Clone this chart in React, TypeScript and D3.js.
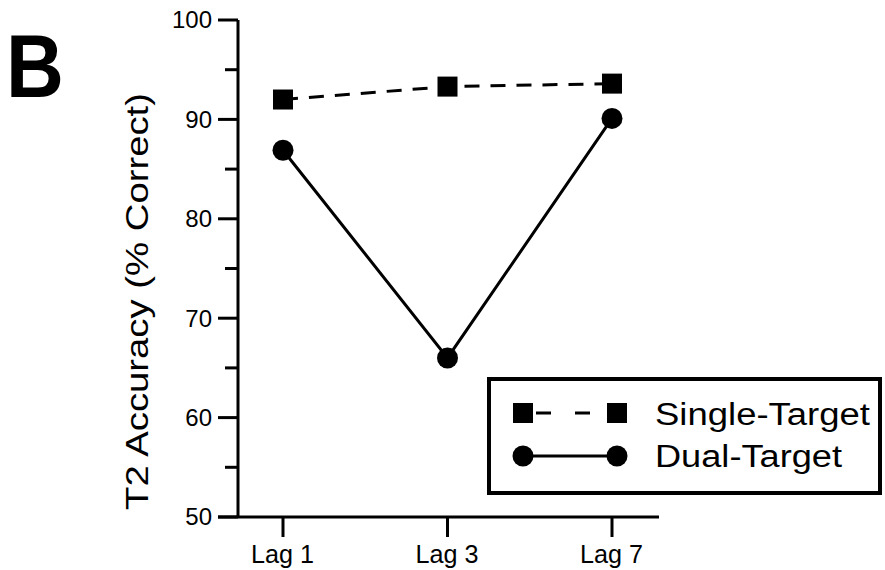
import React from 'react';
import * as d3 from 'd3';

const lags = ['Lag 1', 'Lag 3', 'Lag 7'];
const singleTarget = [92.0, 93.3, 93.6];
const dualTarget = [86.9, 66.0, 90.1];
const yMajor = [50, 60, 70, 80, 90, 100];
const yMinor = [55, 65, 75, 85, 95];

const FONT = '"Liberation Sans", Arial, Helvetica, sans-serif';

const App: React.FC = () => {
  const width = 885;
  const height = 570;
  const axisX = 238;
  const axisY = 517;

  const y = d3.scaleLinear().domain([50, 100]).range([517, 20]);
  const x = d3.scalePoint<string>().domain(lags).range([283, 612]);

  const line = d3.line<number>()
    .x((_, i) => x(lags[i]) as number)
    .y(d => y(d));

  return (
    <svg width={width} height={height} style={{ position: 'absolute', left: 0, top: 0, background: '#fff' }}
      fontFamily={FONT}>
      {/* panel letter */}
      <text transform="translate(6,97) scale(0.9,1)" fontSize={89} fontWeight="bold">B</text>

      {/* y axis */}
      <line x1={axisX} x2={axisX} y1={y(100)} y2={axisY} stroke="#000" strokeWidth={3} />
      {yMajor.map(t => (
        <g key={t}>
          <line x1={axisX - 20} x2={axisX} y1={y(t)} y2={y(t)} stroke="#000" strokeWidth={3} />
          <text x={axisX - 26} y={y(t)} dy="0.35em" textAnchor="end" fontSize={24}>{t}</text>
        </g>
      ))}
      {yMinor.map(t => (
        <line key={t} x1={axisX - 13} x2={axisX} y1={y(t)} y2={y(t)} stroke="#000" strokeWidth={3} />
      ))}

      {/* x axis */}
      <line x1={axisX - 20} x2={659} y1={axisY} y2={axisY} stroke="#000" strokeWidth={3} />
      {lags.map(l => (
        <g key={l}>
          <line x1={x(l)} x2={x(l)} y1={axisY} y2={axisY + 20} stroke="#000" strokeWidth={3} />
          <text x={(x(l) as number) - 32} y={563} fontSize={25} textLength={63} lengthAdjust="spacingAndGlyphs">{l}</text>
        </g>
      ))}

      {/* y label */}
      <text transform={`translate(148,510) rotate(-90)`} fontSize={32} textLength={417} lengthAdjust="spacingAndGlyphs">T2 Accuracy (% Correct)</text>

      {/* series */}
      <path d={line(singleTarget) || ''} fill="none" stroke="#000" strokeWidth={3} strokeDasharray="15,11" />
      <path d={line(dualTarget) || ''} fill="none" stroke="#000" strokeWidth={3} />
      {singleTarget.map((v, i) => (
        <rect key={i} x={(x(lags[i]) as number) - 10} y={y(v) - 10} width={20} height={20} fill="#000" />
      ))}
      {dualTarget.map((v, i) => (
        <circle key={i} cx={x(lags[i])} cy={y(v)} r={10.5} fill="#000" />
      ))}

      {/* legend */}
      <rect x={489} y={379} width={391} height={114} fill="#fff" stroke="#000" strokeWidth={4} />
      <line x1={523} x2={617} y1={413} y2={413} stroke="#000" strokeWidth={3} strokeDasharray="0,13,15,11" />
      <rect x={513} y={403} width={20} height={20} fill="#000" />
      <rect x={607} y={403} width={20} height={20} fill="#000" />
      <text x={655} y={425} fontSize={31} textLength={215} lengthAdjust="spacingAndGlyphs">Single-Target</text>
      <line x1={523} x2={617} y1={456} y2={456} stroke="#000" strokeWidth={3} />
      <circle cx={523} cy={456} r={10.5} fill="#000" />
      <circle cx={617} cy={456} r={10.5} fill="#000" />
      <text x={655} y={467} fontSize={31} textLength={187} lengthAdjust="spacingAndGlyphs">Dual-Target</text>
    </svg>
  );
};

export default App;
